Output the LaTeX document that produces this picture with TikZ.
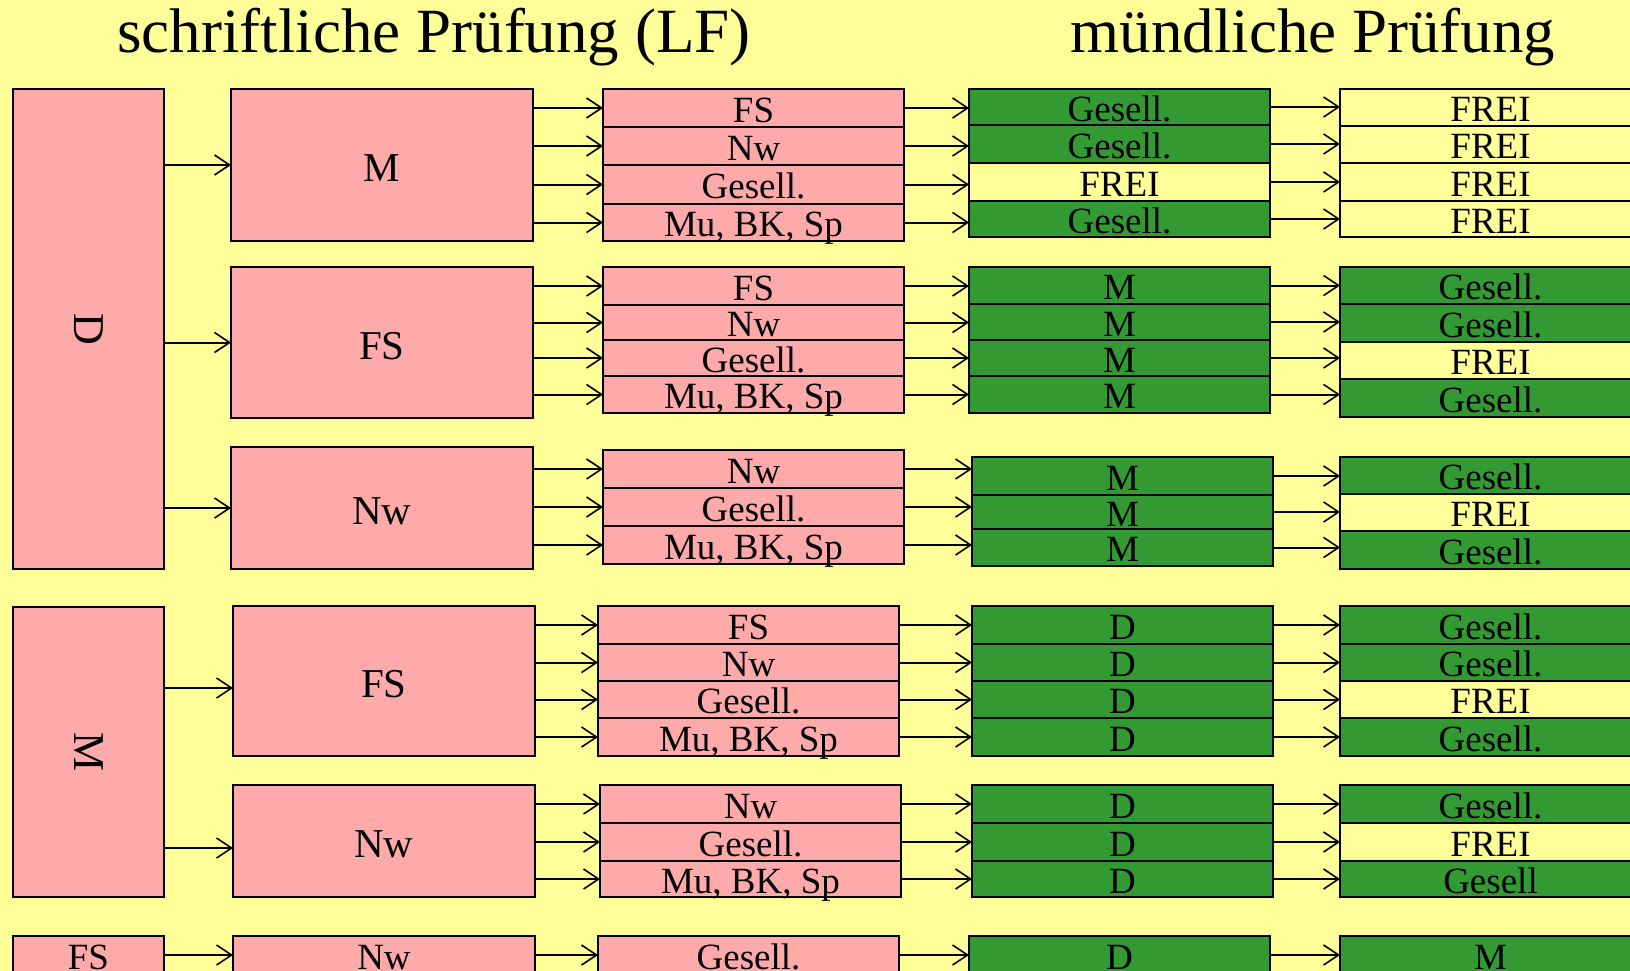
\documentclass[tikz,border=0pt]{standalone}
\usepackage{fontspec}
\setmainfont{Liberation Serif}
\usetikzlibrary{arrows.meta}
\definecolor{bgcol}{HTML}{FFFF99}
\definecolor{pinkcol}{HTML}{FFAAAA}
\definecolor{greencol}{HTML}{339933}
\tikzset{
  base/.style={draw=black, line width=2pt, inner sep=0pt, outer sep=0pt, text=black},
  rowtext/.style={font=\fontsize{37}{37}\selectfont, text height=28.5pt, text depth=0pt},
  pinkbox/.style={base, fill=pinkcol, rowtext},
  bigbox/.style={base, fill=pinkcol, font=\fontsize{41}{41}\selectfont, text height=33pt, text depth=0pt},
  sidebox/.style={base, fill=pinkcol},
  greenbox/.style={base, fill=greencol, rowtext},
  freebox/.style={base, fill=bgcol, rowtext},
  arr/.style={draw=black, line width=2pt, -{Straight Barb[length=15pt,width=20pt,line width=1.6pt]}},
  titletext/.style={font=\fontsize{63}{63}\selectfont, anchor=base, inner sep=0pt}
}
\newcommand{\bx}[7]{\node[#6, minimum width={#4pt-#2pt}, minimum height={#5pt-#3pt}, anchor=north west] (#1) at (#2,#3) {#7};}
\begin{document}
\begin{tikzpicture}[x=1pt,y=-1pt]
\useasboundingbox (0,0) rectangle (1630,971);
\clip (0,0) rectangle (1630,971);
\fill[bgcol] (0,0) rectangle (1630,971);
% titles
\node[titletext] (t1) at (434,53) {schriftliche Prüfung (LF)};
\node[titletext] (t2) at (1313,53) {mündliche Prüfung};
% column 1
\bx{D}{13}{89}{164}{569}{sidebox}{\rotatebox{-90}{\fontsize{44}{44}\selectfont D}}
\bx{Mc}{13}{607}{164}{897}{sidebox}{\rotatebox{-90}{\fontsize{44}{44}\selectfont M}}
\bx{FSc}{13}{936}{164}{974}{pinkbox}{FS}
% column 2
\bx{a}{231}{89}{533}{241}{bigbox}{M}
\bx{b}{231}{267}{533}{418}{bigbox}{FS}
\bx{c}{231}{447}{533}{569}{bigbox}{Nw}
\bx{d}{233}{606}{535}{756}{bigbox}{FS}
\bx{e}{233}{785}{535}{897}{bigbox}{Nw}
\bx{f}{233}{936}{535}{974}{pinkbox}{Nw}
% group a
\bx{ar1}{603}{89}{904}{127}{pinkbox}{FS}
\bx{ar2}{603}{127}{904}{165}{pinkbox}{Nw}
\bx{ar3}{603}{165}{904}{204}{pinkbox}{Gesell.}
\bx{ar4}{603}{204}{904}{241}{pinkbox}{Mu, BK, Sp}
\bx{ag1}{969}{89}{1270}{125}{greenbox}{Gesell.}
\bx{ag2}{969}{125}{1270}{163}{greenbox}{Gesell.}
\bx{ag3}{969}{163}{1270}{201}{freebox}{FREI}
\bx{ag4}{969}{201}{1270}{237}{greenbox}{Gesell.}
\bx{af1}{1340}{89}{1641}{126}{freebox}{FREI}
\bx{af2}{1340}{126}{1641}{163}{freebox}{FREI}
\bx{af3}{1340}{163}{1641}{201}{freebox}{FREI}
\bx{af4}{1340}{201}{1641}{237}{freebox}{FREI}
% group b
\bx{br1}{603}{267}{904}{305}{pinkbox}{FS}
\bx{br2}{603}{305}{904}{340}{pinkbox}{Nw}
\bx{br3}{603}{340}{904}{376}{pinkbox}{Gesell.}
\bx{br4}{603}{376}{904}{413}{pinkbox}{Mu, BK, Sp}
\bx{bg1}{969}{267}{1270}{304}{greenbox}{M}
\bx{bg2}{969}{304}{1270}{340}{greenbox}{M}
\bx{bg3}{969}{340}{1270}{376}{greenbox}{M}
\bx{bg4}{969}{376}{1270}{413}{greenbox}{M}
\bx{bf1}{1340}{267}{1641}{304}{greenbox}{Gesell.}
\bx{bf2}{1340}{304}{1641}{342}{greenbox}{Gesell.}
\bx{bf3}{1340}{342}{1641}{379}{freebox}{FREI}
\bx{bf4}{1340}{379}{1641}{417}{greenbox}{Gesell.}
% group c
\bx{cr1}{603}{450}{904}{488}{pinkbox}{Nw}
\bx{cr2}{603}{488}{904}{526}{pinkbox}{Gesell.}
\bx{cr3}{603}{526}{904}{564}{pinkbox}{Mu, BK, Sp}
\bx{cg1}{972}{457}{1273}{495}{greenbox}{M}
\bx{cg2}{972}{495}{1273}{529}{greenbox}{M}
\bx{cg3}{972}{529}{1273}{566}{greenbox}{M}
\bx{cf1}{1340}{457}{1641}{494}{greenbox}{Gesell.}
\bx{cf2}{1340}{494}{1641}{531}{freebox}{FREI}
\bx{cf3}{1340}{531}{1641}{569}{greenbox}{Gesell.}
% group d
\bx{dr1}{598}{606}{899}{644}{pinkbox}{FS}
\bx{dr2}{598}{644}{899}{681}{pinkbox}{Nw}
\bx{dr3}{598}{681}{899}{718}{pinkbox}{Gesell.}
\bx{dr4}{598}{718}{899}{756}{pinkbox}{Mu, BK, Sp}
\bx{dg1}{972}{606}{1273}{644}{greenbox}{D}
\bx{dg2}{972}{644}{1273}{681}{greenbox}{D}
\bx{dg3}{972}{681}{1273}{718}{greenbox}{D}
\bx{dg4}{972}{718}{1273}{756}{greenbox}{D}
\bx{df1}{1340}{606}{1641}{644}{greenbox}{Gesell.}
\bx{df2}{1340}{644}{1641}{681}{greenbox}{Gesell.}
\bx{df3}{1340}{681}{1641}{718}{freebox}{FREI}
\bx{df4}{1340}{718}{1641}{756}{greenbox}{Gesell.}
% group e
\bx{er1}{600}{785}{901}{823}{pinkbox}{Nw}
\bx{er2}{600}{823}{901}{861}{pinkbox}{Gesell.}
\bx{er3}{600}{861}{901}{897}{pinkbox}{Mu, BK, Sp}
\bx{eg1}{972}{785}{1273}{823}{greenbox}{D}
\bx{eg2}{972}{823}{1273}{861}{greenbox}{D}
\bx{eg3}{972}{861}{1273}{897}{greenbox}{D}
\bx{ef1}{1340}{785}{1641}{823}{greenbox}{Gesell.}
\bx{ef2}{1340}{823}{1641}{861}{freebox}{FREI}
\bx{ef3}{1340}{861}{1641}{897}{greenbox}{Gesell}
% group f
\bx{fr1}{598}{936}{899}{974}{pinkbox}{Gesell.}
\bx{fg1}{969}{936}{1270}{974}{greenbox}{D}
\bx{ff1}{1340}{936}{1641}{974}{greenbox}{M}
% arrows column 1 -> 2
\draw[arr] (D.east |- a.west) -- (a.west);
\draw[arr] (D.east |- b.west) -- (b.west);
\draw[arr] (D.east |- c.west) -- (c.west);
\draw[arr] ([yshift=-7pt]Mc.east |- d.west) -- ([yshift=-7pt]d.west);
\draw[arr] ([yshift=-7pt]Mc.east |- e.west) -- ([yshift=-7pt]e.west);
\draw[arr] (FSc.east |- f.west) -- (f.west);
% arrows column 2 -> 3 -> 4 -> 5
\foreach \g/\n in {a/4,b/4,c/3,d/4,e/3,f/1}{
  \foreach \i in {1,...,\n}{
    \draw[arr] (\g.east |- \g r\i.west) -- (\g r\i.west);
    \draw[arr] (\g r\i.east) -- (\g r\i.east -| \g g\i.west);
    \draw[arr] (\g g\i.east) -- (\g g\i.east -| \g f\i.west);
  }
}
\end{tikzpicture}
\end{document}
